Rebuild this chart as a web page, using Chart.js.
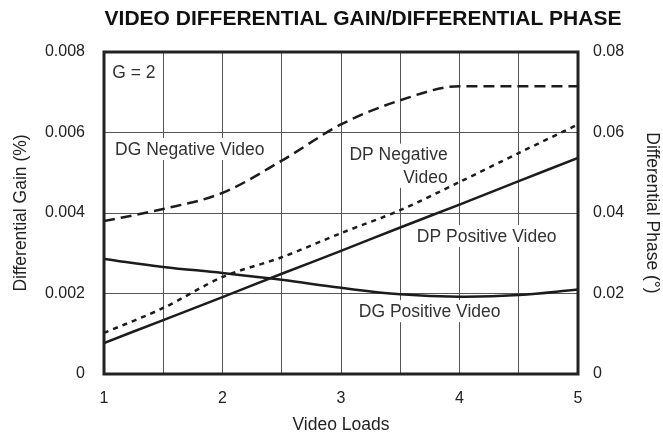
<!DOCTYPE html>
<html>
<head>
<meta charset="utf-8">
<script src="https://cdn.jsdelivr.net/npm/chart.js@4/dist/chart.umd.min.js"></script>
<style>
  html, body { margin: 0; padding: 0; background: #fff; }
  #wrap { width: 663px; height: 434px; position: relative; }
</style>
</head>
<body>
<div id="wrap"><canvas id="myChart"></canvas></div>
<script>
// Data
var loads = [1, 1.5, 2, 2.5, 3, 3.5, 4, 4.5, 5];
var dgNegative = [0.0038, 0.0041, 0.0045, 0.0053, 0.0062, 0.0068, 0.00715, 0.00715, 0.00715];
var dgPositive = [0.00286, 0.00266, 0.00251, 0.00234, 0.00214, 0.00198, 0.00192, 0.00196, 0.0021];
var dpNegative = [0.0102, 0.0164, 0.0241, 0.029, 0.035, 0.0407, 0.0477, 0.0549, 0.062];
var dpPositive = [0.0077, 0.0134, 0.0191, 0.0249, 0.0306, 0.0364, 0.0421, 0.0479, 0.0537];

var gainTicks = [0, 0.002, 0.004, 0.006, 0.008];
var gainTickLabels = ['0', '0.002', '0.004', '0.006', '0.008'];
var phaseTicks = [0, 0.02, 0.04, 0.06, 0.08];
var phaseTickLabels = ['0', '0.02', '0.04', '0.06', '0.08'];

// Text inside the plot: [text, x (loads), y (gain axis), align]
var notes = [
    ['G = 2', 1.07, 0.00751, 'left'],
    ['DG Negative Video', 1.093, 0.00559, 'left'],
    ['DP Negative', 3.9, 0.00545, 'right'],
    ['Video', 3.9, 0.0049, 'right'],
    ['DP Positive Video', 3.64, 0.00343, 'left'],
    ['DG Positive Video', 3.15, 0.00156, 'left']
];

var ink = '#1c1c1c';
var font = '"Liberation Sans", Arial, Helvetica, sans-serif';

function pts(ys) {
    return loads.map(function (x, i) { return { x: x, y: ys[i] }; });
}

// notes go under the curves but over the grid, on a white patch
var notesPlugin = {
    id: 'notes',
    beforeDatasetsDraw: function (chart) {
        var ctx = chart.ctx;
        var sx = chart.scales.x, sy = chart.scales.yL;
        ctx.save();
        ctx.font = '17.5px ' + font;
        ctx.textBaseline = 'middle';
        notes.forEach(function (n) {
            var px = sx.getPixelForValue(n[1]);
            var py = sy.getPixelForValue(n[2]);
            var w = ctx.measureText(n[0]).width;
            var x0 = n[3] === 'right' ? px - w : px;
            ctx.fillStyle = '#fff';
            ctx.fillRect(x0 - 4, py - 11, w + 8, 22);
            ctx.fillStyle = '#333';
            ctx.textAlign = n[3];
            ctx.fillText(n[0], px, py + 1);
        });
        ctx.restore();
    },
    afterDraw: function (chart) {
        var ctx = chart.ctx, a = chart.chartArea;
        ctx.save();
        ctx.strokeStyle = '#222';
        ctx.lineWidth = 3;
        ctx.strokeRect(a.left, a.top, a.right - a.left, a.bottom - a.top);
        ctx.fillStyle = '#111';
        ctx.font = 'bold 21px ' + font;
        ctx.textAlign = 'center';
        ctx.textBaseline = 'middle';
        ctx.fillText('VIDEO DIFFERENTIAL GAIN/DIFFERENTIAL PHASE', 363, 19);
        ctx.restore();
    }
};

var ctx = document.getElementById('myChart').getContext('2d');
var myChart = new Chart(ctx, {
    type: 'line',
    data: {
        datasets: [
            { label: 'DG Negative Video', data: pts(dgNegative), yAxisID: 'yL',
              borderDash: [11, 6], cubicInterpolationMode: 'monotone' },
            { label: 'DP Negative Video', data: pts(dpNegative), yAxisID: 'yR',
              borderDash: [5, 5], tension: 0.3 },
            { label: 'DP Positive Video', data: pts(dpPositive), yAxisID: 'yR', tension: 0.3 },
            { label: 'DG Positive Video', data: pts(dgPositive), yAxisID: 'yL', tension: 0.4 }
        ]
    },
    options: {
        responsive: true,
        maintainAspectRatio: false,
        animation: false,
        layout: { padding: { top: 52, left: 0, right: 0, bottom: 0 } },
        elements: {
            point: { radius: 0 },
            line: { borderColor: ink, borderWidth: 2.5, fill: false }
        },
        plugins: { legend: { display: false }, tooltip: { enabled: false } },
        scales: {
            x: {
                type: 'linear', min: 1, max: 5,
                afterFit: function (s) { s.height = 60; },
                grid: { color: '#555', lineWidth: 1, drawTicks: false },
                border: { display: false },
                ticks: {
                    stepSize: 0.5, autoSkip: false, maxRotation: 0, padding: 15,
                    color: '#222', font: { family: font, size: 16 },
                    callback: function (v) { return Number.isInteger(v) ? String(v) : ''; }
                },
                title: {
                    display: true, text: 'Video Loads', color: '#222',
                    font: { family: font, size: 17.5, lineHeight: 1 }, padding: { top: 0, bottom: 0 }
                }
            },
            yL: {
                position: 'left', min: 0, max: 0.008,
                afterFit: function (s) { s.width = 104; },
                afterBuildTicks: function (s) { s.ticks = gainTicks.map(function (v) { return { value: v }; }); },
                grid: { color: '#555', lineWidth: 1, drawTicks: false },
                border: { display: false },
                ticks: {
                    padding: 19, color: '#222', font: { family: font, size: 16 },
                    callback: function (v, i) { return gainTickLabels[i]; }
                },
                title: {
                    display: true, text: 'Differential Gain (%)', color: '#222',
                    font: { family: font, size: 17.5, lineHeight: 1 }, padding: { top: 12, bottom: 0 }
                }
            },
            yR: {
                position: 'right', min: 0, max: 0.08,
                afterFit: function (s) { s.width = 85; },
                afterBuildTicks: function (s) { s.ticks = phaseTicks.map(function (v) { return { value: v }; }); },
                grid: { display: false, drawTicks: false },
                border: { display: false },
                ticks: {
                    padding: 15, color: '#222', font: { family: font, size: 16 },
                    callback: function (v, i) { return phaseTickLabels[i]; }
                },
                title: {
                    display: true, text: 'Differential Phase (°)', color: '#222',
                    font: { family: font, size: 17.5, lineHeight: 1 }, padding: { top: 2, bottom: 0 }
                }
            }
        }
    },
    plugins: [notesPlugin]
});
</script>
</body>
</html>
